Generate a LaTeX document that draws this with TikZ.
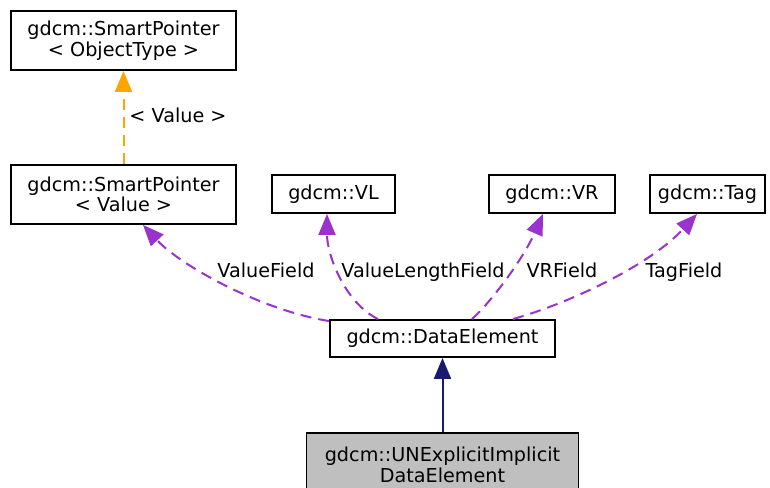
\documentclass[tikz,border=0pt]{standalone}
\usepackage{fontspec}
\setmainfont{DejaVu Sans}
\usetikzlibrary{arrows.meta}
\definecolor{edgepurple}{HTML}{9A32CD}
\definecolor{edgeorange}{HTML}{FFA500}
\definecolor{edgenavy}{HTML}{191970}
\definecolor{boxgray}{HTML}{BFBFBF}
\begin{document}
\begin{tikzpicture}[x=1pt,y=-1pt,
  every node/.style={font=\fontsize{19.2}{20.5}\selectfont},
  cls/.style={draw=black, line width=1.9pt, inner sep=0pt, align=center, fill=white},
  lbl/.style={inner sep=0pt, anchor=base},
  usage/.style={draw=edgepurple, line width=2pt, dash pattern=on 11pt off 7pt,
    -{Triangle[length=21pt,width=17pt,fill=edgepurple]}},
  tmpl/.style={draw=edgeorange, line width=2pt, dash pattern=on 11pt off 7pt,
    -{Triangle[length=21pt,width=17pt,fill=edgeorange]}},
  inherit/.style={draw=edgenavy, line width=2pt,
    -{Triangle[length=21pt,width=17pt,fill=edgenavy]}}]
\useasboundingbox (0,0) rectangle (770,487);

\node[cls, minimum width=225pt, minimum height=59pt] (spo) at (123.5,40.5) {gdcm::SmartPointer\\< ObjectType >};
\node[cls, minimum width=225pt, minimum height=59pt] (spv) at (123.5,194.5) {gdcm::SmartPointer\\< Value >};
\node[cls, minimum width=123pt, minimum height=38pt] (vl) at (333.5,194) {gdcm::VL};
\node[cls, minimum width=126pt, minimum height=38pt] (vr) at (552,194) {gdcm::VR};
\node[cls, minimum width=115pt, minimum height=38pt] (tag) at (707.5,194) {gdcm::Tag};
\node[cls, minimum width=225pt, minimum height=37pt] (de) at (442.5,338.5) {gdcm::DataElement};
\node[cls, fill=boxgray, minimum width=272pt, minimum height=64pt] (un) at (442.5,465) {gdcm::UNExplicitImplicit\\DataElement};

\draw[inherit] (un.north) -- (de.south);
\draw[tmpl] (spv.north) -- (spo.south);
\draw[usage] ([yshift=-2pt]de.north west) .. controls (260,310) and (180,265) .. ([xshift=19.5pt]spv.south);
\draw[usage] ([xshift=-64.5pt]de.north) .. controls (345,303) and (327,255) .. ([xshift=-6.5pt]vl.south);
\draw[usage] ([xshift=29.5pt]de.north) .. controls (495,298) and (525,255) .. ([xshift=-9pt]vr.south);
\draw[usage] ([xshift=70.5pt]de.north) .. controls (570,303) and (650,265) .. ([xshift=-10.5pt]tag.south);

\node[lbl] (lval) at (178,122) {< Value >};
\node[lbl] (lvf) at (266,277) {ValueField};
\node[lbl] (lvlf) at (423,277) {ValueLengthField};
\node[lbl] (lvrf) at (562,277) {VRField};
\node[lbl] (ltf) at (684,277) {TagField};
\end{tikzpicture}
\end{document}
